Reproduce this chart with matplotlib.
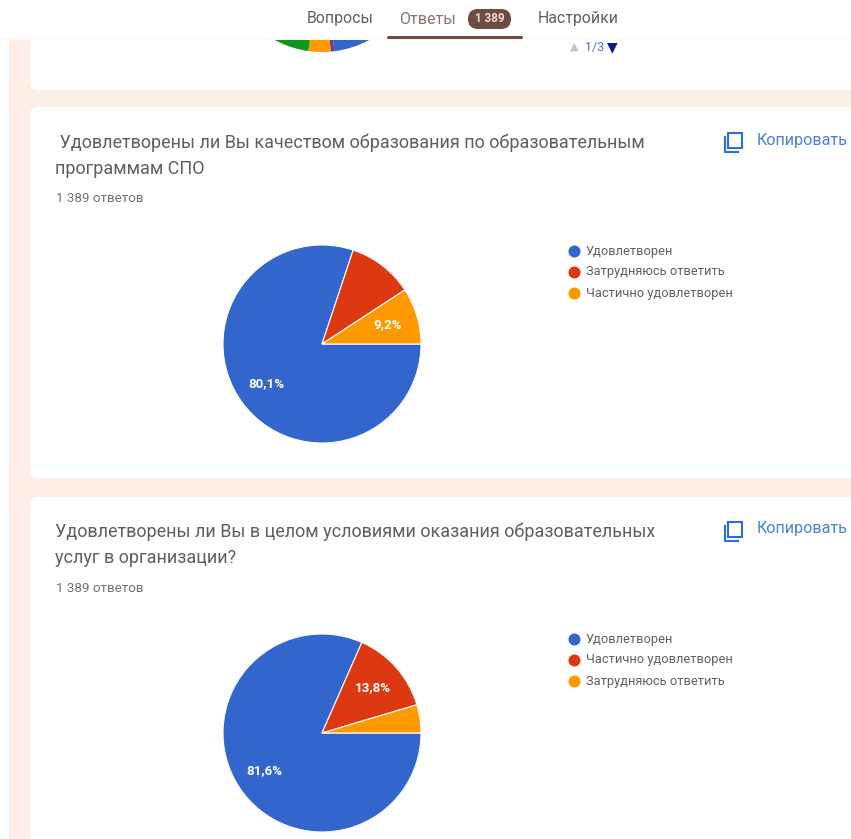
import matplotlib
matplotlib.use("Agg")
import matplotlib.pyplot as plt
from matplotlib.patches import FancyBboxPatch, Rectangle

plt.rcParams["font.family"] = ["Roboto", "DejaVu Sans"]

# ---------------------------------------------
# DATA
# ---------------------------------------------

tabs = ["Вопросы", "Ответы", "Настройки"]
answers_badge = "1 389"
answers_text = "1 389 ответов"
copy_text = "Копировать"

top_values = [23.0, 0.6, 3.6, 20.0, 52.8]   # only the bottom edge is visible
top_colors = ["#3366cc", "#7a3a8c", "#ff9900", "#109618", "#dc3912"]

title_1 = [" Удовлетворены ли Вы качеством образования по образовательным", "программам СПО"]
labels_1 = ["Удовлетворен", "Затрудняюсь ответить", "Частично удовлетворен"]
values_1 = [80.1, 10.7, 9.2]
shown_1 = [True, False, True]

title_2 = ["Удовлетворены ли Вы в целом условиями оказания образовательных", "услуг в организации?"]
labels_2 = ["Удовлетворен", "Частично удовлетворен", "Затрудняюсь ответить"]
values_2 = [81.6, 13.8, 4.6]
shown_2 = [True, True, False]

colors = ["#3366cc", "#dc3912", "#ff9900"]

# ---------------------------------------------
# PAGE
# ---------------------------------------------

W, H = 851, 839
fig = plt.figure(figsize=(W / 100, H / 100), dpi=100, facecolor="white")

page = fig.add_axes([0, 0, 1, 1], zorder=0)
page.set_xlim(0, W)
page.set_ylim(H, 0)
page.axis("off")

page.add_patch(Rectangle((9, 0), W - 9, H, color="#fdeee8", lw=0))

for top, bottom in [(20, 90), (107, 478), (497, 900)]:
    page.add_patch(FancyBboxPatch((30, top), 900, bottom - top,
                                  boxstyle="round,pad=0,rounding_size=8",
                                  fc="white", ec="none"))


def make_pie_axes(cx, cy, r):
    # box around a pie, given in pixels of the picture
    ax = fig.add_axes([(cx - r) / W, 1 - (cy + r) / H, 2 * r / W, 2 * r / H], zorder=1)
    ax.set_xlim(-1, 1)
    ax.set_ylim(-1, 1)
    ax.axis("off")
    return ax


def draw_question(title, labels, values, shown, y0, legend_y):
    page.text(55, y0 + 36, title[0], fontsize=13, color="#5f5f5f", va="center")
    page.text(55, y0 + 62, title[1], fontsize=13, color="#5f5f5f", va="center")
    page.text(56, y0 + 92, answers_text, fontsize=9.6, color="#707070", va="center")

    # copy icon
    page.add_patch(Rectangle((728, y0 + 26), 14, 15, fc="none", ec="#2a6fd6", lw=1.5))
    page.plot([724.5, 724.5, 738], [y0 + 30, y0 + 45, y0 + 45], color="#2a6fd6", lw=1.5)
    page.text(757, y0 + 33, copy_text, fontsize=11.6, color="#4a80d8", va="center")

    ax = make_pie_axes(322, y0 + 237, 99)
    wedges, texts, autotexts = ax.pie(
        values,
        colors=colors,
        startangle=0,
        counterclock=False,
        radius=1,
        center=(0, 0),
        autopct=lambda p: f"{p:.1f}%".replace(".", ","),
        pctdistance=0.69,
        wedgeprops={"edgecolor": "white", "linewidth": 0.8},
        textprops={"color": "white", "fontsize": 9.6, "fontweight": "bold"},
    )
    ax.set_xlim(-1, 1)
    ax.set_ylim(-1, 1)
    for autotext, keep in zip(autotexts, shown):
        if not keep:
            autotext.set_text("")

    for i, label in enumerate(labels):
        y = legend_y + 21 * i
        page.scatter([574], [y], s=75, color=colors[i], lw=0)
        page.text(586, y, label, fontsize=9.3, color="#606060", va="center")


draw_question(title_1, labels_1, values_1, shown_1, 107, 251)
draw_question(title_2, labels_2, values_2, shown_2, 496, 639)

# ---------------------------------------------
# TOP PIE, CUT BY THE HEADER
# ---------------------------------------------

top_ax = make_pie_axes(322, -47, 99)
top_ax.pie(top_values, colors=top_colors, startangle=0, counterclock=False, radius=1)
top_ax.set_xlim(-1, 1)
top_ax.set_ylim(-1, 1)
for wedge in top_ax.patches:
    wedge.set_clip_on(False)

page.text(574, 47, "▲", fontsize=8, color="#c4c4c4", ha="center", va="center",
          family=["DejaVu Sans"])
page.text(595, 47, "1/3", fontsize=9, color="#5566cc", ha="center", va="center")
page.text(612, 47, "▼", fontsize=10, color="#0a1a90", ha="center", va="center",
          family=["DejaVu Sans"])

# ---------------------------------------------
# HEADER
# ---------------------------------------------

head = fig.add_axes([0, 1 - 40 / H, 1, 40 / H], zorder=2)
head.set_xlim(0, W)
head.set_ylim(40, 0)
head.axis("off")
head.add_patch(Rectangle((0, 0), W, 40, fc="white", ec="none"))
head.plot([0, W], [39.5, 39.5], color="#e8e8e8", lw=1)

head.text(307, 19, tabs[0], fontsize=11.4, color="#606060", va="center")
head.text(399, 19, tabs[1], fontsize=11.6, color="#85766f", va="center")
head.text(538, 19, tabs[2], fontsize=11.4, color="#606060", va="center")
head.add_patch(FancyBboxPatch((468, 9), 43, 20, boxstyle="round,pad=0,rounding_size=10",
                              fc="#6d4c41", ec="none"))
head.text(489.5, 19, answers_badge, fontsize=8.4, color="#f3d9cd", ha="center", va="center",
          fontweight="bold")
head.plot([388, 521], [37, 37], color="#6d4c41", lw=2.2, solid_capstyle="round")

fig.savefig("out.png", dpi=100)
